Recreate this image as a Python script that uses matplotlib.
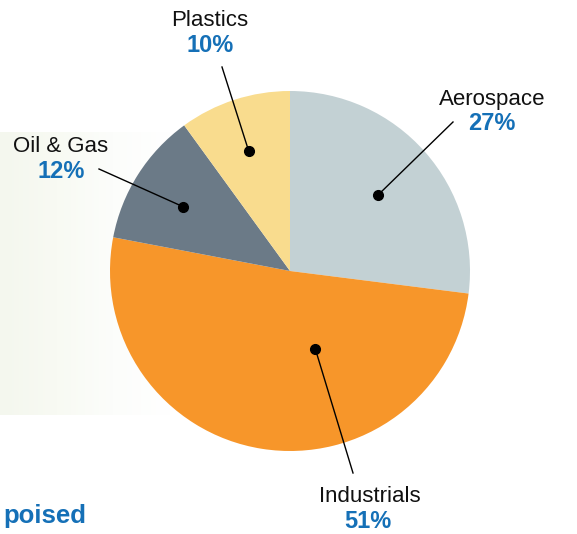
import numpy as np
import matplotlib
matplotlib.use("Agg")
import matplotlib.pyplot as plt
from matplotlib.colors import LinearSegmentedColormap

# ---- data ----
categories = ["Aerospace", "Industrials", "Oil & Gas", "Plastics"]
shares = [27, 51, 12, 10]
pct_labels = ["27%", "51%", "12%", "10%"]
colors = ["#c3d1d4", "#f7962a", "#6b7a87", "#f9dc8e"]

# ---- layout (pixel coords, y from top) ----
W, H = 577, 534
center_px = (290, 271)
radius = 180
dot_angle_offset = [-0.6, 27.0, 1.4, 1.0]   # deg from wedge mid
dot_rfrac = [0.645, 0.455, 0.695, 0.705]
line_end_px = [(453, 122), (353, 473), (99, 169), (222, 67)]
name_pos_px = [(492, 99), (370, 497), (61, 146), (210, 20)]
pct_pos_px = [(492, 124), (368, 522), (61, 171), (210, 46)]

BLUE = "#1570b7"
plt.rcParams['font.family'] = ['Liberation Sans', 'DejaVu Sans']

fig = plt.figure(figsize=(W / 100, H / 100), dpi=100)
ax = fig.add_axes([0, 0, 1, 1])
ax.set_xlim(0, W)
ax.set_ylim(0, H)
ax.set_aspect('equal')
ax.axis('off')

def Y(y):
    return H - y

# background gradient panel
grad = np.linspace(0, 1, 256)[None, :]
cmap = LinearSegmentedColormap.from_list("g", ["#f4f7ee", "#f8faf3", "#fcfdfb", "#ffffff"])
ax.imshow(grad, cmap=cmap, extent=[0, 170, Y(415), Y(132)], aspect='auto', zorder=0)

cx, cy = center_px[0], Y(center_px[1])
wedges, _ = ax.pie(shares, colors=colors, startangle=90, counterclock=False,
                   center=(cx, cy), radius=radius, frame=True,
                   wedgeprops=dict(linewidth=0))
ax.set_xlim(0, W)
ax.set_ylim(0, H)
ax.axis('off')

for i, w in enumerate(wedges):
    mid = (w.theta1 + w.theta2) / 2 + dot_angle_offset[i]
    r = radius * dot_rfrac[i]
    dx = cx + r * np.cos(np.radians(mid))
    dy = cy + r * np.sin(np.radians(mid))
    ex, ey = line_end_px[i]
    ax.plot([dx, ex], [dy, Y(ey)], color='black', lw=1.0, zorder=5)
    ax.plot(dx, dy, 'o', color='black', ms=7, zorder=6)
    nx, ny = name_pos_px[i]
    ax.text(nx, Y(ny), categories[i], ha='center', va='center', fontsize=16, color='#111111')
    px, py = pct_pos_px[i]
    ax.text(px, Y(py), pct_labels[i], ha='center', va='center', fontsize=17,
            fontweight='bold', color=BLUE)

ax.text(3, Y(523), "poised", ha='left', va='baseline', fontsize=18.5,
        fontweight='bold', color=BLUE)

fig.savefig("out.png", dpi=100)
